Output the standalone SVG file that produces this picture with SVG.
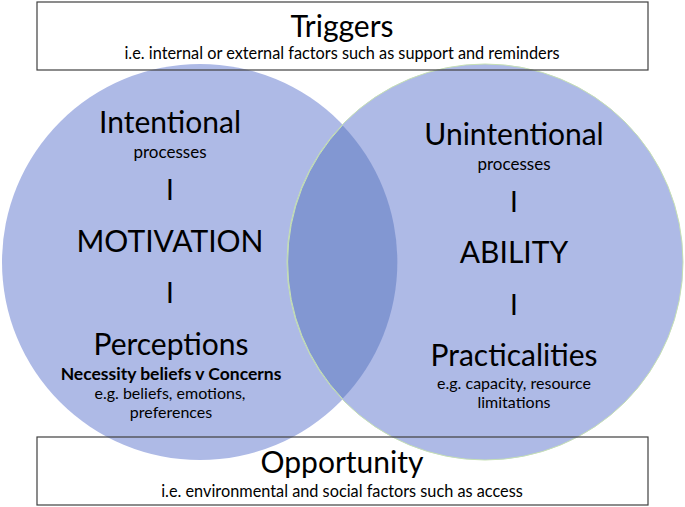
<svg xmlns="http://www.w3.org/2000/svg" width="685" height="507" viewBox="0 0 685 507">
  <style>
    text { font-family: Lato, "Open Sans", "Liberation Sans", sans-serif; fill: #000; text-anchor: middle; }
    .big { font-size: 30px; }
    .bar { font-size: 28px; }
    .mid { font-size: 16px; }
    .proc { font-size: 17px; }
    .sub { font-size: 16.3px; }
    .bold { font-size: 17.5px; font-weight: bold; }
    .boxfill { fill: #fff; stroke: none; }
    .boxline { fill: none; stroke: #404040; stroke-width: 1.2; }
    .circ { fill: #aebae6; }
  </style>
  <rect width="685" height="507" fill="#fff"/>
  <g id="box-triggers-bg"><rect class="boxfill" x="37" y="2" width="611" height="68"/></g>
  <g id="box-opportunity-bg"><rect class="boxfill" x="37" y="437" width="611" height="68"/></g>
  <g id="circle-motivation">
    <circle class="circ" cx="200" cy="262" r="198"/>
  </g>
  <g id="circle-ability">
    <circle class="circ" cx="485" cy="262" r="198" stroke="#c6e0b4" stroke-width="1"/>
  </g>
  <g id="overlap">
    <path d="M342.5 125.2 A198 198 0 0 1 342.5 398.8 A198 198 0 0 1 342.5 125.2 Z" fill="#8297d2"/>
    <path d="M342.5 125.2 A198 198 0 0 0 342.5 398.8" fill="none" stroke="#c6e0b4" stroke-width="1"/>
  </g>
  <g id="connectors"></g>
  <g id="box-triggers">
    <rect class="boxline" x="37" y="2" width="611" height="68"/>
    <text class="big" x="342" y="37">Triggers</text>
    <text class="sub" x="342" y="59">i.e. internal or external factors such as support and reminders</text>
  </g>
  <g id="box-opportunity">
    <rect class="boxline" x="37" y="437" width="611" height="68"/>
    <text class="big" x="342" y="473">Opportunity</text>
    <text class="sub" x="342" y="497">i.e. environmental and social factors such as access</text>
  </g>
  <g id="motivation-text">
    <text class="big" x="170" y="133">Intentional</text>
    <text class="proc" x="170" y="158">processes</text>
    <text class="bar" x="170" y="200">I</text>
    <text class="big" x="170" y="252">MOTIVATION</text>
    <text class="bar" x="170" y="303">I</text>
    <text class="big" x="171" y="355">Perceptions</text>
    <text class="bold" x="171" y="380">Necessity beliefs v Concerns</text>
    <text class="mid" x="170" y="399">e.g. beliefs, emotions,</text>
    <text class="mid" x="171" y="418">preferences</text>
  </g>
  <g id="ability-text">
    <text class="big" x="514" y="145">Unintentional</text>
    <text class="proc" x="514" y="170">processes</text>
    <text class="bar" x="514" y="212">I</text>
    <text class="big" x="514" y="263">ABILITY</text>
    <text class="bar" x="514" y="315">I</text>
    <text class="big" x="514" y="366">Practicalities</text>
    <text class="mid" x="514" y="389">e.g. capacity, resource</text>
    <text class="mid" x="514" y="408">limitations</text>
  </g>
</svg>
